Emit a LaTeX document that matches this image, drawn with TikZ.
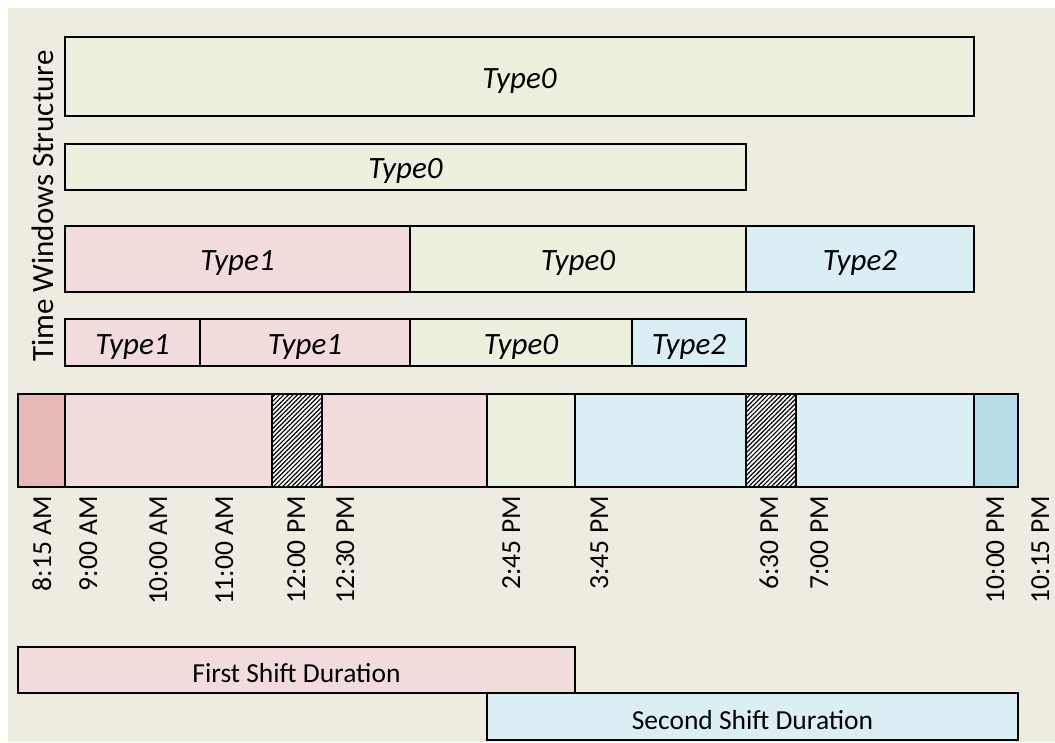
\documentclass[tikz,border=0pt]{standalone}
\usepackage{fontspec}
\setmainfont{Carlito}
\usetikzlibrary{patterns.meta}
\definecolor{bgtan}{HTML}{EEECE1}
\definecolor{tgreen}{HTML}{EBF1DE}
\definecolor{tpink}{HTML}{F2DCDB}
\definecolor{tblue}{HTML}{DBEEF3}
\definecolor{dpink}{HTML}{E6B9B8}
\definecolor{dblue}{HTML}{B7DEE8}
\tikzset{
  box/.style={draw=black, line width=2.6pt, rectangle, inner sep=0pt, font=\fontsize{31}{36}\selectfont\itshape, text height=26.6pt, text depth=3pt},
  seg/.style={draw=black, line width=2.6pt, rectangle, inner sep=0pt},
  hatch/.style={seg, fill=white, postaction={pattern={Lines[angle=45,distance=3.2pt,line width=1.2pt]}}},
  tlabel/.style={rotate=90, anchor=base east, inner sep=0pt, font=\fontsize{27.5}{32}\selectfont},
  shiftbox/.style={draw=black, line width=2.6pt, rectangle, inner sep=0pt, font=\fontsize{27.5}{32}\selectfont, text height=27.4pt, text depth=2pt},
}
\begin{document}
\begin{tikzpicture}[x=1pt,y=-1pt]
\useasboundingbox (0,0) rectangle (1055,742);
\fill[white] (0,0) rectangle (1055,742);
\fill[bgtan] (8,8) rectangle (1055,742);

% title
\node[rotate=90, inner sep=0pt, font=\fontsize{31}{36}\selectfont] (title) at (43,206) {Time Windows Structure};

% row 1
\node[box, fill=tgreen, minimum width=909pt, minimum height=79pt] (r1a) at (519.5,76.5) {Type0};
% row 2
\node[box, fill=tgreen, minimum width=681pt, minimum height=46pt] (r2a) at (405.5,167) {Type0};
% row 3
\node[box, fill=tpink, minimum width=345pt, minimum height=66pt] (r3a) at (237.5,259) {Type1};
\node[box, fill=tgreen, minimum width=336pt, minimum height=66pt] (r3b) at (578,259) {Type0};
\node[box, fill=tblue, minimum width=228pt, minimum height=66pt] (r3c) at (860,259) {Type2};
% row 4
\node[box, fill=tpink, minimum width=135pt, minimum height=47pt] (r4a) at (132.5,342.5) {Type1};
\node[box, fill=tpink, minimum width=210pt, minimum height=47pt] (r4b) at (305,342.5) {Type1};
\node[box, fill=tgreen, minimum width=222pt, minimum height=47pt] (r4c) at (521,342.5) {Type0};
\node[box, fill=tblue, minimum width=114pt, minimum height=47pt] (r4d) at (689,342.5) {Type2};

% timeline
\node[seg, fill=dpink, minimum width=47pt, minimum height=93pt] (t1) at (41.5,440.5) {};
\node[seg, fill=tpink, minimum width=207pt, minimum height=93pt] (t2) at (168.5,440.5) {};
\node[hatch, minimum width=50pt, minimum height=93pt] (t3) at (297,440.5) {};
\node[seg, fill=tpink, minimum width=165pt, minimum height=93pt] (t4) at (404.5,440.5) {};
\node[seg, fill=tgreen, minimum width=88pt, minimum height=93pt] (t5) at (531,440.5) {};
\node[seg, fill=tblue, minimum width=171pt, minimum height=93pt] (t6) at (660.5,440.5) {};
\node[hatch, minimum width=50pt, minimum height=93pt] (t7) at (771,440.5) {};
\node[seg, fill=tblue, minimum width=178pt, minimum height=93pt] (t8) at (885,440.5) {};
\node[seg, fill=dblue, minimum width=44pt, minimum height=93pt] (t9) at (996,440.5) {};

% time labels
\node[tlabel] (l1) at (51,496) {8:15 AM};
\node[tlabel] (l2) at (97,496) {9:00 AM};
\node[tlabel] (l3) at (167,496) {10:00 AM};
\node[tlabel] (l4) at (233,496) {11:00 AM};
\node[tlabel] (l5) at (305,496) {12:00 PM};
\node[tlabel] (l6) at (354,496) {12:30 PM};
\node[tlabel] (l7) at (520,496) {2:45 PM};
\node[tlabel] (l8) at (608,496) {3:45 PM};
\node[tlabel] (l9) at (778,496) {6:30 PM};
\node[tlabel] (l10) at (828,496) {7:00 PM};
\node[tlabel] (l11) at (1004,496) {10:00 PM};
\node[tlabel] (l12) at (1049,496) {10:15 PM};

% shifts
\node[shiftbox, fill=tpink, minimum width=557pt, minimum height=46pt] (s1) at (296.5,670) {First Shift Duration};
\node[shiftbox, fill=tblue, minimum width=531pt, minimum height=47pt] (s2) at (752.5,716.5) {Second Shift Duration};
\end{tikzpicture}
\end{document}
